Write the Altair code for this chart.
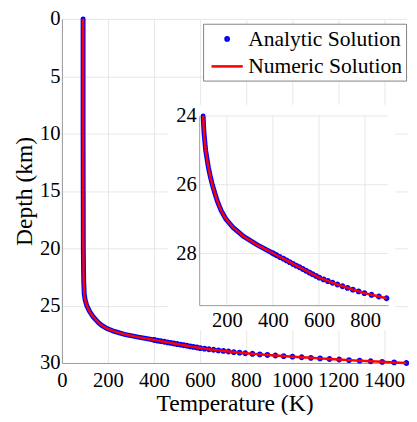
import altair as alt
import pandas as pd

# ---- readings from the reference (temperature in K vs depth in km) ----
# upper part of the profile (analytic points overlap here into a solid band)
dense_depth = [0, 5, 10, 15, 20, 22, 23, 24, 24.5, 25, 25.5, 25.75, 26, 26.25,
               26.5, 26.75, 27, 27.25, 27.5, 27.75]
dense_temp = [92, 92, 92, 92.5, 93, 94, 95, 97, 101, 108, 120, 128, 137, 148,
              160, 175, 196, 228, 272, 332]

# lower part: individual analytic dots (every 0.05 km)
tail_depth = [28.00, 28.05, 28.10, 28.15, 28.20, 28.25, 28.30, 28.35, 28.40, 28.45,
              28.50, 28.55, 28.60, 28.65, 28.70, 28.75, 28.80, 28.85, 28.90, 28.95,
              29.00, 29.05, 29.10, 29.15, 29.20, 29.25, 29.30, 29.35, 29.40, 29.45,
              29.50, 29.55, 29.60, 29.65, 29.70, 29.75, 29.80, 29.85, 29.90, 29.95,
              30.00]
tail_temp = [402, 416, 430, 445, 459, 473, 487, 501, 516, 530,
             544, 558, 572, 587, 601, 620, 639, 659, 680, 702,
             724, 747, 772, 797, 828, 860, 893, 928, 964, 1002,
             1042, 1082, 1122, 1163, 1205, 1248, 1294, 1342, 1392, 1444,
             1497]

series_names = ["Analytic Solution", "Numeric Solution"]
series_colors = ["#0000ff", "#ff0000"]

main_x_ticks = [0, 200, 400, 600, 800, 1000, 1200, 1400]
main_y_ticks = [0, 5, 10, 15, 20, 25, 30]
main_x_domain = [0, 1500]
main_y_domain = [0, 30]

inset_x_ticks = [200, 400, 600, 800]
inset_y_ticks = [24, 26, 28]
inset_x_domain = [80, 900]
inset_y_domain = [24, 29.5]

FONT = "Liberation Serif"
GRID = "#e6e6e6"
AXIS = "#9a9a9a"

W, H = 352, 351

# ---- tables ----
curve = pd.DataFrame({"depth": dense_depth + tail_depth,
                      "temp": dense_temp + tail_temp})
dots = pd.DataFrame({"depth": tail_depth, "temp": tail_temp,
                     "series": series_names[0]})
vgrid = pd.DataFrame({"t": inset_x_ticks, "d0": inset_y_domain[0], "d1": inset_y_domain[1]})
hgrid = pd.DataFrame({"d": inset_y_ticks, "t0": inset_x_domain[0], "t1": inset_x_domain[1]})
one = pd.DataFrame({"k": [0]})

lab = dict(labelFont=FONT, labelFontSize=21, labelColor="black",
           labelFontWeight="normal")

# ---- main scales / axes ----
xs_main = alt.Scale(domain=main_x_domain, nice=False, zero=False)
ys_main = alt.Scale(domain=main_y_domain, nice=False, zero=False, reverse=True)
ax_main = alt.Axis(values=main_x_ticks, format="d", grid=True, gridColor=GRID, gridWidth=1,
                   ticks=False, domainColor=AXIS, domainWidth=1,
                   labelPadding=7, labelFlush=False, labelOverlap=False,
                   title="Temperature (K)", titleFont=FONT, titleFontSize=24,
                   titleFontWeight="normal", titleColor="black", titlePadding=1, **lab)
ay_main = alt.Axis(values=main_y_ticks, format="d", grid=True, gridColor=GRID, gridWidth=1,
                   ticks=False, domainColor=AXIS, domainWidth=1,
                   labelPadding=2, labelFlush=False, labelOverlap=False,
                   title="Depth (km)", titleFont=FONT, titleFontSize=24,
                   titleFontWeight="normal", titleColor="black", titlePadding=3, **lab)

X_main = alt.X("temp:Q", scale=xs_main, axis=ax_main)
Y_main = alt.Y("depth:Q", scale=ys_main, axis=ay_main)

SYM = 484  # symbol box 22 px
circle_path = "M0.145,0A0.145,0.145,0,1,1,-0.145,0A0.145,0.145,0,1,1,0.145,0Z"
line_path = "M-1.45,0L1.45,0"
legend = alt.Legend(title=None, orient="none", legendX=144, legendY=5,
                    labelFont=FONT, labelFontSize=22, labelColor="black",
                    labelFontWeight="normal",
                    labelLimit=400, labelOffset=9, rowPadding=4, padding=3,
                    symbolOffset=9, symbolSize=SYM, symbolStrokeWidth=2.6,
                    strokeColor="#808080", fillColor="white", cornerRadius=0)

band_main = alt.Chart(curve).transform_filter("datum.depth <= 28.05").mark_line(
    color=series_colors[0], strokeWidth=5, strokeCap="round").encode(
    x=X_main, y=Y_main, order=alt.Order("depth:Q"))

dots_main = alt.Chart(dots).mark_point(filled=False, size=SYM, strokeWidth=2.8,
                                        opacity=1).encode(
    x=X_main, y=Y_main,
    color=alt.Color("series:N", scale=alt.Scale(domain=series_names, range=series_colors),
                    legend=legend),
    shape=alt.Shape("series:N", scale=alt.Scale(domain=series_names,
                                                range=[circle_path, line_path]),
                    legend=legend))

red_main = alt.Chart(curve).mark_line(color=series_colors[1], strokeWidth=2.5).encode(
    x=X_main, y=Y_main, order=alt.Order("depth:Q"))

main = alt.layer(band_main, dots_main, red_main)

# ---- inset ----
xs_in = alt.Scale(domain=inset_x_domain, range=[140, 332.7], nice=False, zero=False)
ys_in = alt.Scale(domain=inset_y_domain, range=[99, 292], nice=False, zero=False)
ax_in = alt.Axis(values=inset_x_ticks, format="d", orient="bottom", offset=-59, grid=False,
                 ticks=False, domainColor=AXIS, domainWidth=1, zindex=1,
                 labelPadding=5, labelFlush=False, labelOverlap=False, title=None, **lab)
ay_in = alt.Axis(values=inset_y_ticks, format="d", orient="left", offset=-140, grid=False,
                 ticks=False, domainColor=AXIS, domainWidth=1, zindex=1,
                 labelPadding=3, labelFlush=False, labelOverlap=False, title=None, **lab)

bg = alt.Chart(one).mark_rect(color="white").encode(
    x=alt.value(108), x2=alt.value(340), y=alt.value(88), y2=alt.value(318))

vg = alt.Chart(vgrid).mark_rule(color=GRID, strokeWidth=1).encode(
    x=alt.X("t:Q", scale=xs_in, axis=ax_in),
    y=alt.Y("d0:Q", scale=ys_in, axis=ay_in), y2="d1:Q")
hg = alt.Chart(hgrid).mark_rule(color=GRID, strokeWidth=1).encode(
    x=alt.X("t0:Q", scale=xs_in, axis=ax_in), x2="t1:Q",
    y=alt.Y("d:Q", scale=ys_in, axis=ay_in))

X_in = alt.X("temp:Q", scale=xs_in, axis=ax_in)
Y_in = alt.Y("depth:Q", scale=ys_in, axis=ay_in)

band_in = alt.Chart(curve).transform_filter(
    "datum.depth >= 24 && datum.depth <= 28.05").mark_line(
    color=series_colors[0], strokeWidth=5, strokeCap="round").encode(
    x=X_in, y=Y_in, order=alt.Order("depth:Q"))
dots_in = alt.Chart(dots).transform_filter("datum.temp <= 900").mark_point(
    filled=False, size=SYM, strokeWidth=2.8, opacity=1, shape=circle_path,
    color=series_colors[0]).encode(x=X_in, y=Y_in)
red_in = alt.Chart(curve).transform_filter(
    "datum.depth >= 24 && datum.temp <= 900").mark_line(
    color=series_colors[1], strokeWidth=2.5).encode(
    x=X_in, y=Y_in, order=alt.Order("depth:Q"))

inset = alt.layer(bg, vg, hg, band_in, dots_in, red_in)

chart = alt.layer(main, inset).resolve_scale(x="independent", y="independent").properties(
    width=W, height=H,
    autosize=alt.AutoSizeParams(type="none"),
    padding={"left": 55, "top": 7, "right": 2, "bottom": 49},
    background="white",
).configure_view(stroke=None)

chart.save("out.html", embed_options={"renderer": "svg", "actions": False})
